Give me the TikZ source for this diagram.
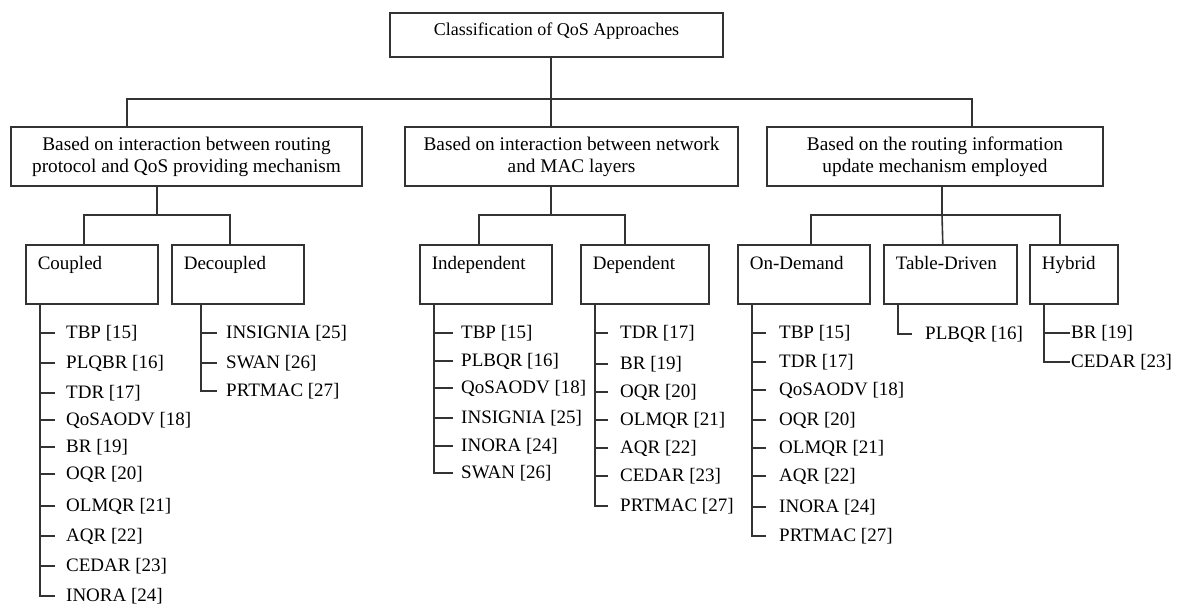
\documentclass[tikz,border=0pt]{standalone}
\usepackage{fontspec}
\setmainfont{Liberation Serif}
\newfontfamily\qosfont{Liberation Serif}
\usetikzlibrary{positioning}

\begin{document}
\begin{tikzpicture}[x=1pt,y=-1pt,
  font={\qosfont\fontsize{19pt}{22pt}\selectfont},
  link/.style={black!80, line width=1.6pt},
  rootbox/.style={draw=black!80, line width=1.6pt, anchor=north, minimum width=333pt,
    inner ysep=0pt, text height=23pt, text depth=21pt, font={\qosfont\fontsize{18pt}{22pt}\selectfont}},
  headbox/.style={draw=black!80, line width=1.6pt, minimum height=59pt, inner sep=0pt, align=center,
    font={\qosfont\fontsize{19.3pt}{22pt}\selectfont}},
  leafbox/.style={draw=black!80, line width=1.6pt, anchor=north west, inner xsep=12pt, inner ysep=0pt,
    text height=24.5pt, text depth=34.5pt, text width=108pt, align=left},
  item/.style={anchor=west, inner sep=0pt}
  ]
  \useasboundingbox (0,0) rectangle (1189,613);

  % root and first level
  \node[rootbox] (root) at (556.5,12) {Classification of QoS Approaches};
  \node[headbox, minimum width=351pt] (based1) at (186.5,156.5) {Based on interaction between routing\\protocol and QoS providing mechanism};
  \node[headbox, minimum width=333pt] (based2) at (571.5,156.5) {Based on interaction between network\\and MAC layers};
  \node[headbox, minimum width=336pt] (based3) at (935,156.5) {Based on the routing information\\update mechanism employed};

  \coordinate (topbus) at (551,99);
  \draw[link] ([xshift=-5.5pt]root.south) -- ([xshift=-20.5pt]based2.north);
  \draw[link] ([xshift=-59.5pt]based1.north) |- (topbus) -| ([xshift=37pt]based3.north);

  % second level
  \node[leafbox] (coupled) at (25,244) {Coupled};
  \node[leafbox] (decoupled) at (171,244) {Decoupled};
  \node[leafbox] (independent) at (419,244) {Independent};
  \node[leafbox, text width=104pt] (dependent) at (580,244) {Dependent};
  \node[leafbox] (ondemand) at (737,244) {On-Demand};
  \node[leafbox, text width=109pt] (tabledriven) at (883,244) {Table-Driven};
  \node[leafbox, text width=64pt] (hybrid) at (1029,244) {Hybrid};

  \coordinate (bus1) at (157,215);
  \draw[link] ([xshift=-29.5pt]based1.south) -- (bus1);
  \draw[link] ([xshift=-8pt]coupled.north) |- (bus1) -| ([xshift=-8pt]decoupled.north);
  \coordinate (bus2) at (551,215);
  \draw[link] ([xshift=-20.5pt]based2.south) -- (bus2);
  \draw[link] ([xshift=-7pt]independent.north) |- (bus2) -| ([xshift=-20pt]dependent.north);
  \coordinate (bus3) at (942,215);
  \draw[link] ([xshift=7pt]based3.south) -- (bus3);
  \draw[link] ([xshift=7pt]ondemand.north) |- (bus3) -| ([xshift=-14pt]hybrid.north);
  \draw[link] (bus3) -- ([xshift=-7.5pt]tabledriven.north);

  % coupled list
  \node[item] (cpl1) at (66,333) {TBP [15]};
  \node[item] (cpl2) at (66,363) {PLQBR [16]};
  \node[item] (cpl3) at (66,393) {TDR [17]};
  \node[item] (cpl4) at (66,420) {QoSAODV [18]};
  \node[item] (cpl5) at (66,447) {BR [19]};
  \node[item] (cpl6) at (66,474) {OQR [20]};
  \node[item] (cpl7) at (66,506) {OLMQR [21]};
  \node[item] (cpl8) at (66,536) {AQR [22]};
  \node[item] (cpl9) at (66,566) {CEDAR [23]};
  \node[item] (cpl10) at (66,596) {INORA [24]};
  \coordinate (cplstem) at ([xshift=15pt]coupled.south west);
  \draw[link] (cplstem) |- ([xshift=-11pt]cpl10.west);
  \draw[link] (cplstem |- cpl1.west) -- ([xshift=-11pt]cpl1.west)
    (cplstem |- cpl2.west) -- ([xshift=-11pt]cpl2.west)
    (cplstem |- cpl3.west) -- ([xshift=-11pt]cpl3.west)
    (cplstem |- cpl4.west) -- ([xshift=-11pt]cpl4.west)
    (cplstem |- cpl5.west) -- ([xshift=-11pt]cpl5.west)
    (cplstem |- cpl6.west) -- ([xshift=-11pt]cpl6.west)
    (cplstem |- cpl7.west) -- ([xshift=-11pt]cpl7.west)
    (cplstem |- cpl8.west) -- ([xshift=-11pt]cpl8.west)
    (cplstem |- cpl9.west) -- ([xshift=-11pt]cpl9.west);

  % decoupled list
  \node[item] (dcp1) at (226,333) {INSIGNIA [25]};
  \node[item] (dcp2) at (226,363) {SWAN [26]};
  \node[item] (dcp3) at (226,391) {PRTMAC [27]};
  \coordinate (dcpstem) at ([xshift=30pt]decoupled.south west);
  \draw[link] (dcpstem) |- ([xshift=-9pt]dcp3.west);
  \draw[link] (dcpstem |- dcp1.west) -- ([xshift=-9pt]dcp1.west)
    (dcpstem |- dcp2.west) -- ([xshift=-9pt]dcp2.west);

  % independent list
  \node[item] (ind1) at (461,333) {TBP [15]};
  \node[item] (ind2) at (461,361) {PLBQR [16]};
  \node[item] (ind3) at (461,388) {QoSAODV [18]};
  \node[item] (ind4) at (461,418) {INSIGNIA [25]};
  \node[item] (ind5) at (461,446) {INORA [24]};
  \node[item] (ind6) at (461,473) {SWAN [26]};
  \coordinate (indstem) at ([xshift=15pt]independent.south west);
  \draw[link] (indstem) |- ([xshift=-8pt]ind6.west);
  \draw[link] (indstem |- ind1.west) -- ([xshift=-8pt]ind1.west)
    (indstem |- ind2.west) -- ([xshift=-8pt]ind2.west)
    (indstem |- ind3.west) -- ([xshift=-8pt]ind3.west)
    (indstem |- ind4.west) -- ([xshift=-8pt]ind4.west)
    (indstem |- ind5.west) -- ([xshift=-8pt]ind5.west);

  % dependent list
  \node[item] (dep1) at (620,333) {TDR [17]};
  \node[item] (dep2) at (620,364) {BR [19]};
  \node[item] (dep3) at (620,392) {OQR [20]};
  \node[item] (dep4) at (620,420) {OLMQR [21]};
  \node[item] (dep5) at (620,448) {AQR [22]};
  \node[item] (dep6) at (620,476) {CEDAR [23]};
  \node[item] (dep7) at (620,506) {PRTMAC [27]};
  \coordinate (depstem) at ([xshift=15pt]dependent.south west);
  \draw[link] (depstem) |- ([xshift=-12pt]dep7.west);
  \draw[link] (depstem |- dep1.west) -- ([xshift=-12pt]dep1.west)
    (depstem |- dep2.west) -- ([xshift=-12pt]dep2.west)
    (depstem |- dep3.west) -- ([xshift=-12pt]dep3.west)
    (depstem |- dep4.west) -- ([xshift=-12pt]dep4.west)
    (depstem |- dep5.west) -- ([xshift=-12pt]dep5.west)
    (depstem |- dep6.west) -- ([xshift=-12pt]dep6.west);

  % on-demand list
  \node[item] (ond1) at (779,333) {TBP [15]};
  \node[item] (ond2) at (779,362) {TDR [17]};
  \node[item] (ond3) at (779,390) {QoSAODV [18]};
  \node[item] (ond4) at (779,420) {OQR [20]};
  \node[item] (ond5) at (779,448) {OLMQR [21]};
  \node[item] (ond6) at (779,476) {AQR [22]};
  \node[item] (ond7) at (779,507) {INORA [24]};
  \node[item] (ond8) at (779,536) {PRTMAC [27]};
  \coordinate (ondstem) at ([xshift=15pt]ondemand.south west);
  \draw[link] (ondstem) |- ([xshift=-13pt]ond8.west);
  \draw[link] (ondstem |- ond1.west) -- ([xshift=-13pt]ond1.west)
    (ondstem |- ond2.west) -- ([xshift=-13pt]ond2.west)
    (ondstem |- ond3.west) -- ([xshift=-13pt]ond3.west)
    (ondstem |- ond4.west) -- ([xshift=-13pt]ond4.west)
    (ondstem |- ond5.west) -- ([xshift=-13pt]ond5.west)
    (ondstem |- ond6.west) -- ([xshift=-13pt]ond6.west)
    (ondstem |- ond7.west) -- ([xshift=-13pt]ond7.west);

  % table-driven and hybrid lists
  \node[item] (tbd1) at (925,334) {PLBQR [16]};
  \coordinate (tbdstem) at ([xshift=15pt]tabledriven.south west);
  \draw[link] (tbdstem) |- ([xshift=-13pt]tbd1.west);

  \node[item] (hyb1) at (1071,333) {BR [19]};
  \node[item] (hyb2) at (1071,362) {CEDAR [23]};
  \coordinate (hybstem) at ([xshift=15pt]hybrid.south west);
  \draw[link] (hybstem) |- ([xshift=-1pt]hyb2.west);
  \draw[link] (hybstem |- hyb1.west) -- ([xshift=-1pt]hyb1.west);
\end{tikzpicture}
\end{document}
